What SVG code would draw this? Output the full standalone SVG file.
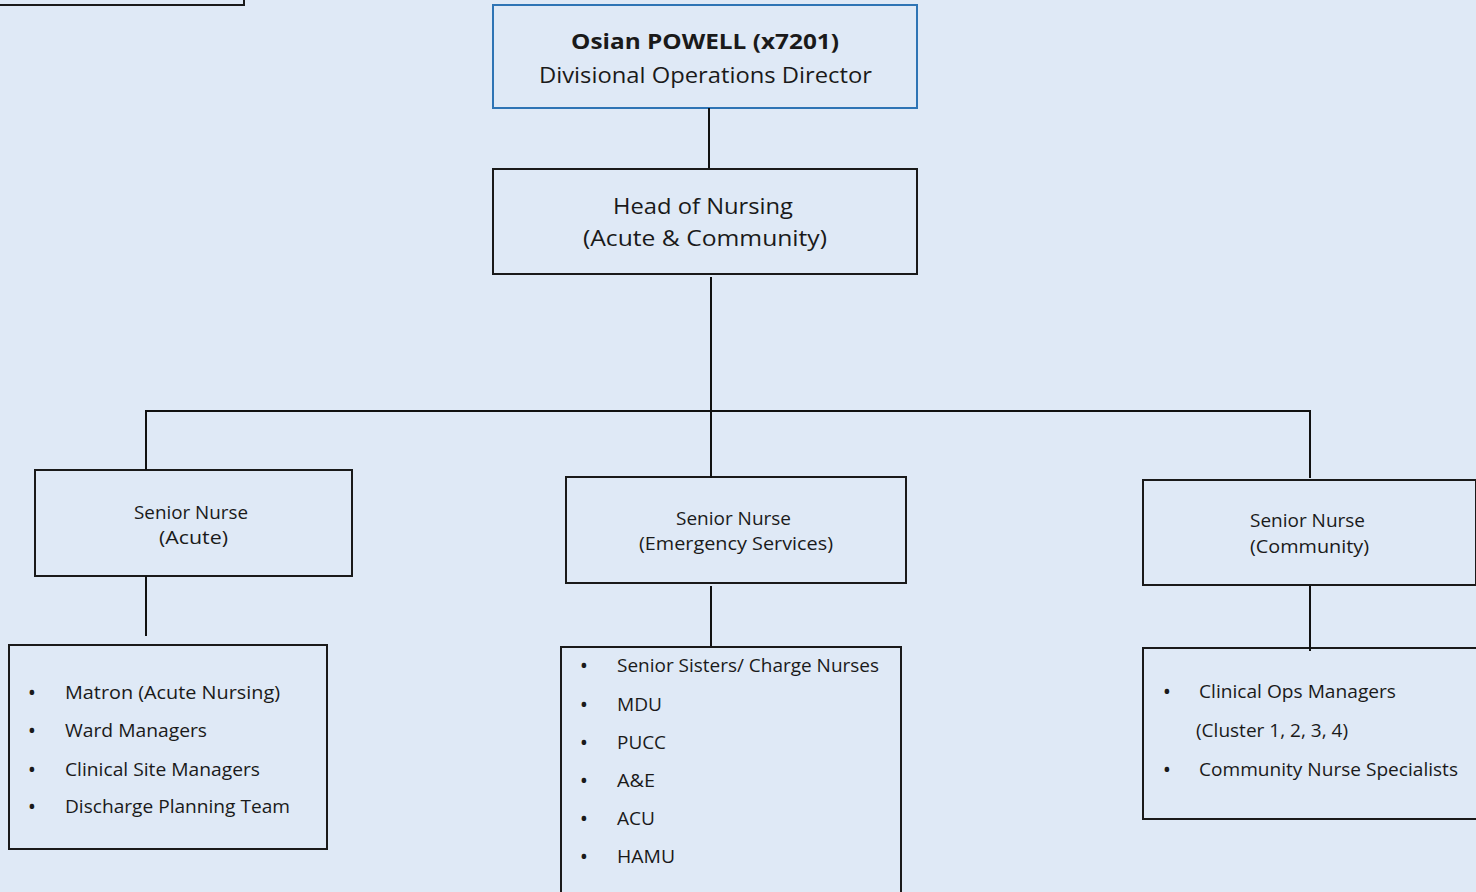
<svg xmlns="http://www.w3.org/2000/svg" width="1476" height="892" viewBox="0 0 1476 892">
<style>
text{font-family:"Open Sans","Noto Sans","Liberation Sans",sans-serif;fill:#1a1a1a}
.box{fill:none;stroke:#1a1a1a;stroke-width:2}
.blue{fill:none;stroke:#2e74b5;stroke-width:2}
.t1{font-size:21px}
.t2{font-size:18px}
.t3{font-size:18px}
.bu{font-size:22px;text-anchor:middle}
.b{font-weight:bold}
.conn line{stroke:#111;stroke-width:2}
</style>
<rect width="1476" height="892" fill="#dfe9f6"/>
<g id="topleft"><rect class="box" x="-5" y="-50" width="249" height="55"/></g>
<g id="director">
<rect class="blue" x="493" y="5" width="424" height="103"/>
<text class="t1 b" x="571" y="49" textLength="268" lengthAdjust="spacingAndGlyphs">Osian POWELL (x7201)</text>
<text class="t1" x="539" y="83" textLength="333" lengthAdjust="spacingAndGlyphs">Divisional Operations Director</text>
</g>
<g id="head">
<rect class="box" x="493" y="169" width="424" height="105"/>
<text class="t1" x="613" y="214" textLength="180" lengthAdjust="spacingAndGlyphs">Head of Nursing</text>
<text class="t1" x="583" y="246" textLength="244" lengthAdjust="spacingAndGlyphs">(Acute &amp; Community)</text>
</g>
<g id="sn-acute">
<rect class="box" x="35" y="470" width="317" height="106"/>
<text class="t2" x="134" y="519" textLength="114" lengthAdjust="spacingAndGlyphs">Senior Nurse</text>
<text class="t2" x="159" y="544" textLength="69" lengthAdjust="spacingAndGlyphs">(Acute)</text>
</g>
<g id="sn-emergency">
<rect class="box" x="566" y="477" width="340" height="106"/>
<text class="t2" x="676" y="525" textLength="115" lengthAdjust="spacingAndGlyphs">Senior Nurse</text>
<text class="t2" x="639" y="550" textLength="194" lengthAdjust="spacingAndGlyphs">(Emergency Services)</text>
</g>
<g id="sn-community">
<rect class="box" x="1143" y="480" width="333" height="105"/>
<text class="t2" x="1250" y="527" textLength="115" lengthAdjust="spacingAndGlyphs">Senior Nurse</text>
<text class="t2" x="1250" y="553" textLength="119" lengthAdjust="spacingAndGlyphs">(Community)</text>
</g>
<g id="list-acute">
<rect class="box" x="9" y="645" width="318" height="204"/>
<text class="bu" x="32" y="700">•</text>
<text class="t3" x="65" y="699" textLength="215" lengthAdjust="spacingAndGlyphs">Matron (Acute Nursing)</text>
<text class="bu" x="32" y="738">•</text>
<text class="t3" x="65" y="737" textLength="142" lengthAdjust="spacingAndGlyphs">Ward Managers</text>
<text class="bu" x="32" y="777">•</text>
<text class="t3" x="65" y="776" textLength="195" lengthAdjust="spacingAndGlyphs">Clinical Site Managers</text>
<text class="bu" x="32" y="814">•</text>
<text class="t3" x="65" y="813" textLength="225" lengthAdjust="spacingAndGlyphs">Discharge Planning Team</text>
</g>
<g id="list-emergency">
<rect class="box" x="561" y="647" width="340" height="260"/>
<text class="bu" x="584" y="673">•</text>
<text class="t3" x="617" y="672" textLength="262" lengthAdjust="spacingAndGlyphs">Senior Sisters/ Charge Nurses</text>
<text class="bu" x="584" y="712">•</text>
<text class="t3" x="617" y="711" textLength="45" lengthAdjust="spacingAndGlyphs">MDU</text>
<text class="bu" x="584" y="750">•</text>
<text class="t3" x="617" y="749" textLength="49" lengthAdjust="spacingAndGlyphs">PUCC</text>
<text class="bu" x="584" y="788">•</text>
<text class="t3" x="617" y="787" textLength="38" lengthAdjust="spacingAndGlyphs">A&amp;E</text>
<text class="bu" x="584" y="826">•</text>
<text class="t3" x="617" y="825" textLength="38" lengthAdjust="spacingAndGlyphs">ACU</text>
<text class="bu" x="584" y="864">•</text>
<text class="t3" x="617" y="863" textLength="58" lengthAdjust="spacingAndGlyphs">HAMU</text>
</g>
<g id="list-community">
<rect class="box" x="1143" y="648" width="340" height="171"/>
<text class="bu" x="1167" y="699">•</text>
<text class="t3" x="1199" y="698" textLength="197" lengthAdjust="spacingAndGlyphs">Clinical Ops Managers</text>
<text class="t3" x="1196" y="737" textLength="152" lengthAdjust="spacingAndGlyphs">(Cluster 1, 2, 3, 4)</text>
<text class="bu" x="1167" y="777">•</text>
<text class="t3" x="1199" y="776" textLength="259" lengthAdjust="spacingAndGlyphs">Community Nurse Specialists</text>
</g>
<g id="connectors" class="conn">
<line x1="709" y1="108" x2="709" y2="168"/>
<line x1="711" y1="277" x2="711" y2="478"/>
<line x1="145" y1="411" x2="1311" y2="411"/>
<line x1="146" y1="410" x2="146" y2="470"/>
<line x1="1310" y1="410" x2="1310" y2="478"/>
<line x1="146" y1="576" x2="146" y2="636"/>
<line x1="711" y1="586" x2="711" y2="646"/>
<line x1="1310" y1="586" x2="1310" y2="651"/>
</g>
</svg>
